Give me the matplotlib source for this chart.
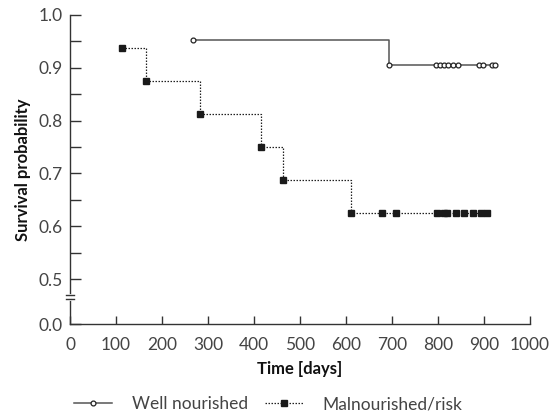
import matplotlib
matplotlib.use("Agg")
import matplotlib.pyplot as plt
from matplotlib.lines import Line2D

plt.rcParams['font.family'] = ['Lato', 'DejaVu Sans']

# Well nourished group
well_times = [268, 693, 925]
well_surv = [0.952, 0.905, 0.905]
well_events = [268, 693]
well_events_surv = [0.952, 0.905]
well_censored = [796, 804, 813, 822, 832, 843, 889, 899, 917, 925]

# Malnourished / at risk group
mal_times = [112, 166, 283, 415, 464, 612, 906]
mal_surv = [0.9375, 0.875, 0.8125, 0.75, 0.6875, 0.625, 0.625]
mal_censored = [679, 709, 798, 813, 819, 839, 858, 876, 893, 906]

y_ticks = [0.5, 0.6, 0.7, 0.8, 0.9, 1.0]
y_minor = [0.55, 0.65, 0.75, 0.85, 0.95]
x_ticks = list(range(0, 1001, 100))

Y_ZERO = 0.415  # where "0.0" sits below the axis break
BREAK_Y = 0.466

fig = plt.figure(figsize=(5.53, 4.16), dpi=100)
ax = fig.add_axes([0.1266, 0.221, 0.8314, 0.743])

lc = "#333333"
gray = "#555555"
txt = "#444444"

ax.step(well_times, well_surv, where="post", color=gray, lw=1.1, zorder=2)
ax.plot(well_events, well_events_surv, "o", ms=3.5, mfc="white", mec="#222222", mew=0.9, zorder=3)
ax.plot(well_censored, [well_surv[-1]] * len(well_censored), "o", ms=3.5,
        mfc="white", mec="#222222", mew=0.9, zorder=3)

ax.step(mal_times, mal_surv, where="post", color="#222222", lw=0.9, ls=(0, (1.2, 1.2)), zorder=2)
ax.plot(mal_times[:-1], mal_surv[:-1], "s", ms=4, color="#1a1a1a", zorder=3)
ax.plot(mal_censored, [mal_surv[-1]] * len(mal_censored), "s", ms=4, color="#1a1a1a", zorder=3)

ax.set_xlim(0, 1000)
ax.set_ylim(Y_ZERO, 1.0)
ax.set_xticks(x_ticks)
ax.set_xticklabels([str(t) for t in x_ticks])
ax.set_yticks([Y_ZERO] + y_ticks)
ax.set_yticklabels(["0.0"] + ["%.1f" % t for t in y_ticks])
ax.set_yticks(y_minor, minor=True)

ax.spines["top"].set_visible(False)
ax.spines["right"].set_visible(False)
for s in ["left", "bottom"]:
    ax.spines[s].set_color(lc)
    ax.spines[s].set_linewidth(1.0)

ax.tick_params(axis="y", which="both", direction="in", length=8, width=1, color=lc,
               labelsize=12.5, labelcolor=txt, pad=5)
ax.tick_params(axis="x", which="both", direction="in", length=6, width=1, color=lc,
               labelsize=12.5, labelcolor=txt, pad=9)

# axis break marks
ytr = ax.get_yaxis_transform()
ax.add_line(Line2D([0, 0], [BREAK_Y - 0.0035, BREAK_Y + 0.0035], color="white", lw=2,
                   transform=ytr, clip_on=False, zorder=4))
for dy in [0.0035, -0.0035]:
    ax.add_line(Line2D([-0.009, 0.009], [BREAK_Y + dy, BREAK_Y + dy], color=lc, lw=1,
                       transform=ytr, clip_on=False, zorder=5))

ax.set_xlabel("Time [days]", fontsize=12, fontweight="bold", color="#111111", labelpad=6)
ax.set_ylabel("Survival probability", fontsize=12, fontweight="bold", color="#111111", labelpad=5.5)

handles = [
    Line2D([], [], color=gray, lw=1.1, marker="o", ms=3.5, mfc="white", mec="#222222", mew=0.9),
    Line2D([], [], color="#222222", lw=0.9, ls=(0, (1.2, 1.2)), marker="s", ms=4, mfc="#1a1a1a", mec="#1a1a1a"),
]
fig.legend(handles, ["Well nourished", "Malnourished/risk"], loc="lower center",
           bbox_to_anchor=(0.485, -0.028), ncol=2, frameon=False, fontsize=12.5,
           handlelength=2.2, columnspacing=1.0, handletextpad=1.1, labelcolor=txt)

fig.savefig("out.png", dpi=100)
